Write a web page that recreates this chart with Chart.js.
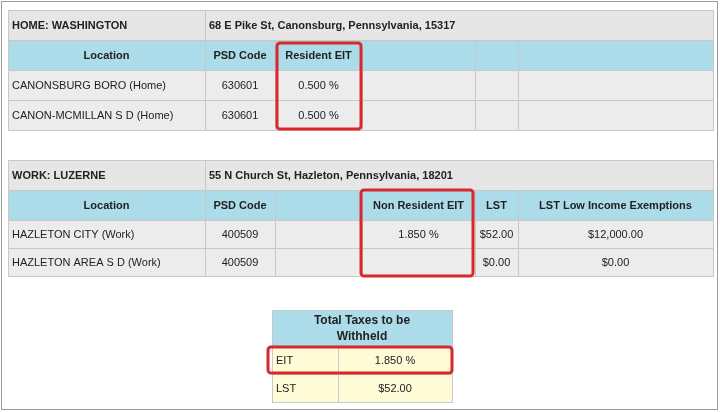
<!DOCTYPE html>
<html><head><meta charset="utf-8">
<script src="https://cdn.jsdelivr.net/npm/chart.js@4.4.0/dist/chart.umd.min.js"></script>
<style>html,body{margin:0;padding:0;background:#fff}</style>
</head><body>
<canvas id="c" width="720" height="412"></canvas>
<script>
const homeTitle = ["HOME: WASHINGTON", "68 E Pike St, Canonsburg, Pennsylvania, 15317"];
const homeHeaders = ["Location", "PSD Code", "Resident EIT", "", "", ""];
const homeRows = [
  ["CANONSBURG BORO (Home)", "630601", "0.500 %", "", "", ""],
  ["CANON-MCMILLAN S D (Home)", "630601", "0.500 %", "", "", ""]
];
const workTitle = ["WORK: LUZERNE", "55 N Church St, Hazleton, Pennsylvania, 18201"];
const workHeaders = ["Location", "PSD Code", "", "Non Resident EIT", "LST", "LST Low Income Exemptions"];
const workRows = [
  ["HAZLETON CITY (Work)", "400509", "", "1.850 %", "$52.00", "$12,000.00"],
  ["HAZLETON AREA S D (Work)", "400509", "", "", "$0.00", "$0.00"]
];
const totalTitle = ["Total Taxes to be", "Withheld"];
const totalLabels = ["EIT", "LST"];
const totalValues = ["1.850 %", "$52.00"];

const cols = [8, 205, 275, 362, 475, 518, 713];
const F = '"Liberation Sans", Arial, sans-serif';
const BLUE = '#acdce9', GRAY = '#e6e6e6', ROW = '#ececec', LINE = '#c8c8c8', RED = '#d8282c', YEL = '#fffbd6';

function cell(ctx, x, y, w, h, fill, text, align, bold, size) {
  ctx.fillStyle = fill; ctx.fillRect(x, y, w, h);
  ctx.strokeStyle = LINE; ctx.lineWidth = 1; ctx.strokeRect(x + .5, y + .5, w, h);
  if (!text) return;
  ctx.fillStyle = '#222';
  ctx.font = (bold ? 'bold ' : '') + (size || 11) + 'px ' + F;
  ctx.textBaseline = 'middle';
  ctx.textAlign = align;
  const tx = align === 'center' ? x + w / 2 : x + 4;
  ctx.fillText(text, tx, y + h / 2 + 1);
}
function section(ctx, y0, title, headers, rows, rh) {
  cell(ctx, cols[0], y0, cols[1] - cols[0], 30, GRAY, title[0], 'left', true);
  cell(ctx, cols[1], y0, cols[6] - cols[1], 30, GRAY, title[1], 'left', true);
  for (let i = 0; i < 6; i++) cell(ctx, cols[i], y0 + 30, cols[i + 1] - cols[i], 30, BLUE, headers[i], 'center', true);
  rows.forEach((r, j) => {
    for (let i = 0; i < 6; i++) cell(ctx, cols[i], y0 + 60 + j * rh, cols[i + 1] - cols[i], rh, ROW, r[i], i === 0 ? 'left' : 'center', false);
  });
}
function redBox(ctx, x, y, w, h) {
  ctx.strokeStyle = RED; ctx.lineWidth = 3;
  ctx.beginPath(); ctx.roundRect(x, y, w, h, 3); ctx.stroke();
}
const tablePlugin = {
  id: 'table',
  afterDraw(chart) {
    const ctx = chart.ctx;
    ctx.save();
    ctx.fillStyle = '#fff'; ctx.fillRect(0, 0, 720, 412);
    ctx.strokeStyle = '#9a9a9a'; ctx.lineWidth = 1; ctx.strokeRect(1.5, 1.5, 716, 408);
    section(ctx, 10, homeTitle, homeHeaders, homeRows, 30);
    section(ctx, 160, workTitle, workHeaders, workRows, 28);
    // totals
    ctx.fillStyle = BLUE; ctx.fillRect(272, 310, 180, 36);
    ctx.strokeStyle = LINE; ctx.lineWidth = 1; ctx.strokeRect(272.5, 310.5, 180, 36);
    ctx.fillStyle = '#222'; ctx.font = 'bold 12px ' + F; ctx.textAlign = 'center'; ctx.textBaseline = 'middle';
    ctx.fillText(totalTitle[0], 362, 321); ctx.fillText(totalTitle[1], 362, 337);
    totalLabels.forEach((l, j) => {
      cell(ctx, 272, 346 + j * 28, 66, 28, YEL, l, 'left', false);
      cell(ctx, 338, 346 + j * 28, 114, 28, YEL, totalValues[j], 'center', false);
    });
    redBox(ctx, 277, 43, 84, 86);
    redBox(ctx, 361, 190, 112, 86);
    redBox(ctx, 268, 347, 184, 26);
    ctx.restore();
  }
};
new Chart(document.getElementById('c'), {
  type: 'bar',
  data: { labels: homeRows.map(r => r[0]), datasets: [{ data: [] }] },
  options: {
    responsive: false, animation: false,
    plugins: { legend: { display: false }, tooltip: { enabled: false } },
    scales: { x: { display: false }, y: { display: false } }
  },
  plugins: [tablePlugin]
});
</script>
</body></html>
